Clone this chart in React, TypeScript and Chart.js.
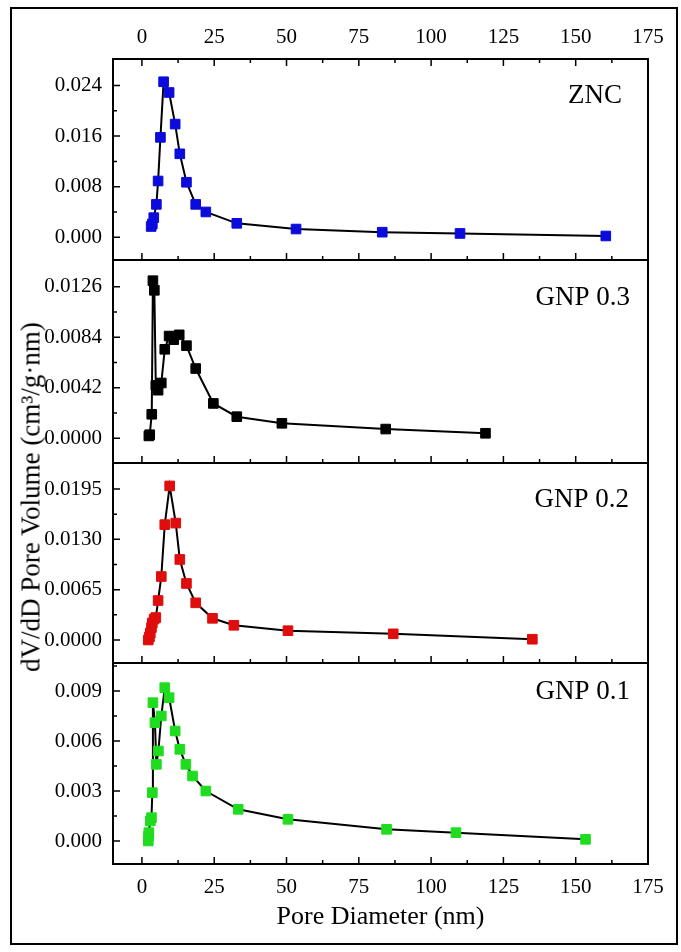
import React, { useEffect, useRef } from "react";
import { Chart, registerables } from "chart.js";

Chart.register(...registerables);

// Shared pore-diameter axis (nm)
const X_TICKS = [0, 25, 50, 75, 100, 125, 150, 175];
const X_MIN = -10;
const X_MAX = 175;

// ZNC
const ZNC_D = [3.2, 3.6, 4.1, 5.0, 5.6, 6.4, 7.5, 9.4, 11.5, 13.1, 15.4, 18.6, 22.1, 32.8, 53.3, 83.1, 110.0, 160.4];
const ZNC_V = [0.0017, 0.0021, 0.0031, 0.0052, 0.0089, 0.0158, 0.0246, 0.0229, 0.0179, 0.0132, 0.0087, 0.0052, 0.0040, 0.0022, 0.0013, 0.0008, 0.0006, 0.0002];
const ZNC_Y_TICKS = ["0.000", "0.008", "0.016", "0.024"];

// GNP 0.3
const GNP03_D = [2.4, 2.7, 3.4, 3.8, 4.3, 4.8, 5.6, 6.7, 7.9, 9.4, 11.0, 12.9, 15.4, 18.6, 24.7, 32.8, 48.4, 84.3, 118.8];
const GNP03_V = [0.0002, 0.0003, 0.0020, 0.0131, 0.0123, 0.0044, 0.0040, 0.0046, 0.0074, 0.0085, 0.0082, 0.0086, 0.0077, 0.0058, 0.0029, 0.0018, 0.00125, 0.00077, 0.00042];
const GNP03_Y_TICKS = ["0.0000", "0.0042", "0.0084", "0.0126"];

// GNP 0.2
const GNP02_D = [2.2, 2.6, 2.9, 3.3, 3.6, 4.2, 4.8, 5.6, 6.7, 7.9, 9.6, 11.7, 13.1, 15.4, 18.6, 24.4, 31.8, 50.5, 86.9, 135.0];
const GNP02_V = [0.0000, 0.0004, 0.0009, 0.0016, 0.0022, 0.0027, 0.0029, 0.0051, 0.0082, 0.0149, 0.0199, 0.0151, 0.0104, 0.0073, 0.0048, 0.0028, 0.0019, 0.0012, 0.0008, 0.0001];
const GNP02_Y_TICKS = ["0.0000", "0.0065", "0.0130", "0.0195"];

// GNP 0.1
const GNP01_D = [2.2, 2.3, 2.4, 2.9, 3.3, 3.6, 3.8, 4.5, 5.0, 5.7, 6.7, 7.9, 9.4, 11.5, 13.1, 15.2, 17.5, 22.1, 33.3, 50.5, 84.6, 108.6, 153.4];
const GNP01_V = [0.0000, 0.0003, 0.0005, 0.0012, 0.0014, 0.0029, 0.0083, 0.0071, 0.0046, 0.0054, 0.0075, 0.0092, 0.0086, 0.0066, 0.0055, 0.0046, 0.0039, 0.0030, 0.0019, 0.0013, 0.0007, 0.0005, 0.0001];
const GNP01_Y_TICKS = ["0.000", "0.003", "0.006", "0.009"];

const SERIF = '"Liberation Serif", "Times New Roman", serif';
const W = 681;
const H = 952;
const PLOT_LEFT = 113;
const PLOT_RIGHT = 648;
const Y_AXIS_W = 75;

type PanelCfg = {
  name: string;
  d: number[];
  v: number[];
  yTicks: string[];
  yMin: number;
  yMax: number;
  color: string;
  top: number;
  bottom: number;
  labelRight: number;
  labelDy: number;
};

const PANELS: PanelCfg[] = [
  { name: "ZNC", d: ZNC_D, v: ZNC_V, yTicks: ZNC_Y_TICKS, yMin: -0.0036, yMax: 0.0282, color: "#0b0bdc", top: 59, bottom: 260, labelRight: 622, labelDy: 37 },
  { name: "GNP 0.3", d: GNP03_D, v: GNP03_V, yTicks: GNP03_Y_TICKS, yMin: -0.00205, yMax: 0.01482, color: "#000000", top: 260, bottom: 463, labelRight: 630, labelDy: 38 },
  { name: "GNP 0.2", d: GNP02_D, v: GNP02_V, yTicks: GNP02_Y_TICKS, yMin: -0.00297, yMax: 0.02286, color: "#e00d0d", top: 463, bottom: 663, labelRight: 629, labelDy: 37 },
  { name: "GNP 0.1", d: GNP01_D, v: GNP01_V, yTicks: GNP01_Y_TICKS, yMin: -0.00138, yMax: 0.01068, color: "#1fdc1f", top: 663, bottom: 864, labelRight: 630, labelDy: 29 },
];

// Frame, inward tick marks and the sample name of each panel
const framePlugin = {
  id: "frame",
  afterDraw(chart: any) {
    const o = chart.options.plugins.frame;
    const { ctx, chartArea } = chart;
    const { left, right, top, bottom } = chartArea;
    const xs = chart.scales.x;
    const ys = chart.scales.y;
    ctx.save();
    ctx.strokeStyle = "#000";
    ctx.lineWidth = 2;
    ctx.strokeRect(left, top, right - left, bottom - top);

    ctx.lineWidth = 1.5;
    ctx.beginPath();
    // x ticks (major 25, minor 12.5)
    for (let i = 0; i < X_TICKS.length; i++) {
      const v = X_TICKS[i];
      const px = xs.getPixelForValue(v);
      ctx.moveTo(px, bottom);
      ctx.lineTo(px, bottom - 7);
      if (o.topTicks) {
        ctx.moveTo(px, top);
        ctx.lineTo(px, top + 7);
      }
      if (i < X_TICKS.length - 1) {
        const mv = (v + X_TICKS[i + 1]) / 2;
        const mp = xs.getPixelForValue(mv);
        ctx.moveTo(mp, bottom);
        ctx.lineTo(mp, bottom - 4);
        if (o.topTicks) {
          ctx.moveTo(mp, top);
          ctx.lineTo(mp, top + 4);
        }
      }
    }
    // y ticks (major labelled, minor halfway)
    const vals: number[] = o.yTicks.map((t: string) => Number(t));
    const step = vals[1] - vals[0];
    for (const v of vals) {
      const py = ys.getPixelForValue(v);
      ctx.moveTo(left, py);
      ctx.lineTo(left + 7, py);
    }
    for (let m = vals[0] - step / 2; m <= ys.max; m += step) {
      if (m < ys.min) continue;
      const py = ys.getPixelForValue(m);
      if (py < top + 3 || py > bottom - 3) continue;
      ctx.moveTo(left, py);
      ctx.lineTo(left + 4, py);
    }
    ctx.stroke();

    ctx.fillStyle = "#000";
    ctx.font = "27px " + SERIF;
    ctx.textAlign = "right";
    ctx.textBaseline = "middle";
    ctx.fillText(o.label, o.labelRight, top + o.labelDy);
    ctx.restore();
  },
};

function Panel({ idx }: { idx: number }) {
  const ref = useRef<HTMLCanvasElement>(null);
  useEffect(() => {
    const p = PANELS[idx];
    const isTop = idx === 0;
    const isBottom = idx === PANELS.length - 1;
    const xAxisH = isTop ? 40 : isBottom ? 69 : 0;
    const padTop = isTop ? p.top - xAxisH : p.top;
    const padBottom = isBottom ? H - p.bottom - xAxisH : H - p.bottom;

    const points = p.d.map((x, i) => ({ x, y: p.v[i] }));

    const chart = new Chart(ref.current as HTMLCanvasElement, {
      type: "line",
      data: {
        datasets: [
          {
            data: points,
            borderColor: "#000",
            borderWidth: 2,
            tension: 0,
            fill: false,
            pointStyle: "rect",
            pointRadius: 6.8,
            pointBorderWidth: 1,
            pointBackgroundColor: p.color,
            pointBorderColor: p.color,
          },
        ],
      },
      options: {
        responsive: false,
        animation: false,
        devicePixelRatio: 1,
        events: [],
        layout: {
          padding: { left: PLOT_LEFT - Y_AXIS_W, right: W - PLOT_RIGHT, top: padTop, bottom: padBottom },
        },
        plugins: {
          legend: { display: false },
          tooltip: { enabled: false },
          frame: { label: p.name, labelRight: p.labelRight, labelDy: p.labelDy, yTicks: p.yTicks, topTicks: isTop },
        } as any,
        scales: {
          x: {
            type: "linear",
            min: X_MIN,
            max: X_MAX,
            position: isTop ? "top" : "bottom",
            display: isTop || isBottom,
            grid: { display: false, drawTicks: false },
            border: { display: false },
            afterBuildTicks: (s: any) => {
              s.ticks = X_TICKS.map((v) => ({ value: v }));
            },
            ticks: {
              font: { family: SERIF, size: 21 },
              color: "#000",
              padding: isTop ? 9 : 11,
              maxRotation: 0,
              autoSkip: false,
              callback: (v: any) => String(v),
            },
            title: {
              display: isBottom,
              text: "Pore Diameter (nm)",
              font: { family: SERIF, size: 26 },
              color: "#000",
              padding: 0,
            },
            afterFit: (s: any) => {
              s.height = xAxisH;
              s.paddingLeft = 0;
              s.paddingRight = 0;
            },
          },
          y: {
            type: "linear",
            min: p.yMin,
            max: p.yMax,
            grid: { display: false, drawTicks: false },
            border: { display: false },
            afterBuildTicks: (s: any) => {
              s.ticks = p.yTicks.map((t) => ({ value: Number(t) }));
            },
            ticks: {
              font: { family: SERIF, size: 21 },
              color: "#000",
              padding: 11,
              autoSkip: false,
              callback: (_v: any, i: number) => p.yTicks[i],
            },
            afterFit: (s: any) => {
              s.width = Y_AXIS_W;
              s.paddingTop = 0;
              s.paddingBottom = 0;
            },
          },
        },
      } as any,
      plugins: [framePlugin],
    });
    return () => chart.destroy();
  }, [idx]);

  return (
    <canvas
      ref={ref}
      width={W}
      height={H}
      style={{ position: "absolute", left: 0, top: 0, width: W, height: H }}
    />
  );
}

export default function App() {
  return (
    <div style={{ position: "absolute", left: 0, top: 0, width: W, height: H, background: "#fff" }}>
      <div
        style={{
          position: "absolute",
          left: 10,
          top: 7,
          width: 668,
          height: 938,
          border: "2px solid #000",
          boxSizing: "border-box",
        }}
      />
      {PANELS.map((_, i) => (
        <Panel key={i} idx={i} />
      ))}
      <div
        style={{
          position: "absolute",
          left: 31,
          top: 497,
          transform: "translate(-50%, -50%) rotate(-90deg)",
          font: "27px " + SERIF,
          lineHeight: 1,
          whiteSpace: "nowrap",
          color: "#000",
        }}
      >
        dV/dD Pore Volume (cm³/g·nm)
      </div>
    </div>
  );
}
